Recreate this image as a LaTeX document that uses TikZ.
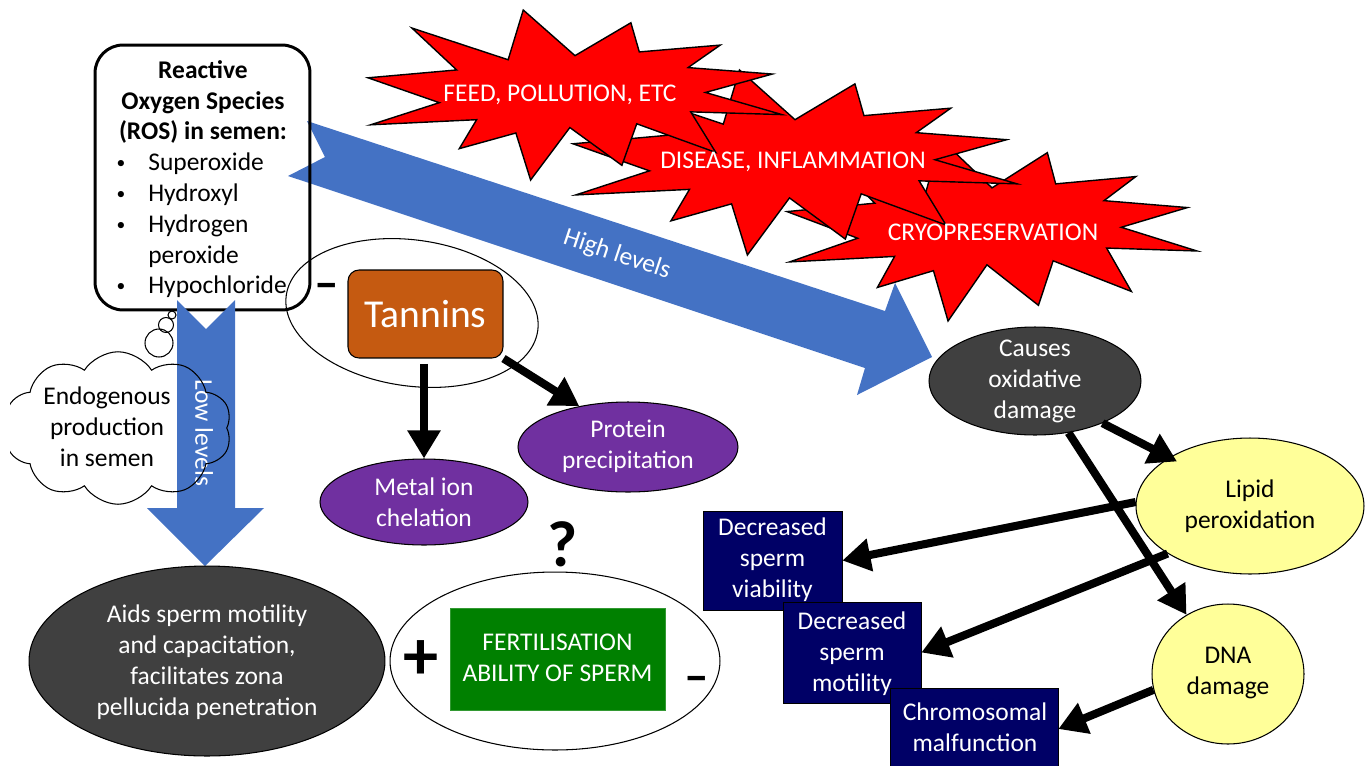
\documentclass[tikz,border=0pt]{standalone}
\usepackage{fontspec}
\setmainfont{Carlito}
\usetikzlibrary{shapes.geometric,shapes.symbols,arrows.meta}
\definecolor{pblue}{RGB}{68,114,196}
\definecolor{porange}{RGB}{197,90,17}
\definecolor{ppurple}{RGB}{112,48,160}
\definecolor{pdark}{RGB}{64,64,64}
\definecolor{pyellow}{RGB}{255,255,153}
\definecolor{pnavy}{RGB}{0,0,102}
\definecolor{pgreen}{RGB}{0,128,0}
\newcommand{\sealshape}{(50,26.85) -- (63.5,7.5) -- (65.53,24.65) -- (85.09,20.63) -- (77.32,33.87) -- (97.67,37.67) -- (81.51,48.50) -- (100,61.53) -- (77.95,59.92) -- (84.00,83.77) -- (64.91,66.93) -- (61.33,91.38) -- (48.76,69.14) -- (39.28,100) -- (35.72,72.35) -- (22.05,81.56) -- (26.24,64.52) -- (0.63,67.53) -- (17.23,54.51) -- (0,39.88) -- (21.42,35.26) -- (10.6,10.6) -- (33.85,29.26) -- (37.5,0) -- cycle}
\begin{document}
\begin{tikzpicture}[x=0.02cm,y=-0.02cm,
  txt/.style={font=\fontsize{14.5}{17.6}\selectfont, align=center, inner sep=0pt},
  wtxt/.style={txt, text=white},
  bullettxt/.style={inner sep=0pt, font=\fontsize{10}{12}\selectfont},
  starshape/.style={fill=red, draw=black, line width=0.8pt, line join=miter},
  blockarrow/.style={fill=pblue, draw=none},
  bigarrow/.style={line width=4.6pt, -{Triangle[length=16pt,width=18pt]}},
  ellnode/.style={ellipse, draw=black, line width=0.6pt, inner sep=0pt},
  navybox/.style={fill=pnavy, draw=black, line width=0.4pt, inner sep=0pt},
  signtxt/.style={inner sep=0pt, font=\bfseries\fontsize{28}{30}\selectfont}]
\useasboundingbox (0,0) rectangle (1367,765);

% --- explosions (bottom to top)
\begin{scope}[shift={(787,139)}, xscale=4.10, yscale=1.82]
  \filldraw[starshape] \sealshape;
\end{scope}
\begin{scope}[shift={(573,70)}, xscale=4.44, yscale=1.85]
  \filldraw[starshape] \sealshape;
\end{scope}
\begin{scope}[shift={(368,10)}, xscale=4.14, yscale=1.70]
  \filldraw[starshape] \sealshape;
\end{scope}
\node[wtxt] (feed) at (560,95) {FEED, POLLUTION, ETC};
\node[wtxt] (disease) at (793,162) {DISEASE, INFLAMMATION};
\node[wtxt] (cryo) at (993,232) {CRYOPRESERVATION};

% --- high levels arrow
\fill[blockarrow] (307,121) -- (885,311) -- (895,283) -- (932,357) -- (857,395) -- (865,368) -- (288,176) -- (325,157) -- cycle;
\node[wtxt, rotate=-18.4] (high) at (617,255) {High levels};

% --- ROS box
\node[draw=black, line width=1.7pt, rounded corners=0.56cm, minimum width=4.3cm, minimum height=5.3cm, inner sep=0pt] (ros) at (202.5,177.5) {};
\node[txt, font=\bfseries\fontsize{14.5}{17.6}\selectfont] (rostitle) at (203,102) {Reactive\\Oxygen Species\\(ROS) in semen:};
\node[bullettxt] (b1) at (121,164) {•};
\node[bullettxt] (b2) at (121,195) {•};
\node[bullettxt] (b3) at (121,226) {•};
\node[bullettxt] (b4) at (121,287) {•};
\node[txt, anchor=mid west] (i1) at (148,166) {Superoxide};
\node[txt, anchor=mid west] (i2) at (148,197) {Hydroxyl};
\node[txt, anchor=mid west] (i3) at (148,228) {Hydrogen};
\node[txt, anchor=mid west] (i4) at (148,259) {peroxide};
\node[txt, anchor=mid west] (i5) at (148,289) {Hypochloride};

% --- low levels arrow
\fill[blockarrow] (177,300) -- (206,329) -- (235,300) -- (235,508) -- (264,508) -- (205,566) -- (147,508) -- (177,508) -- cycle;
\node[wtxt, rotate=-90] (low) at (204,433) {Low levels};

% --- thought cloud
\begin{scope}
  \clip (10,300) rectangle (400,560);
  \node[cloud, draw=black, line width=0.6pt, cloud puffs=10, cloud puff arc=115, aspect=1.5, minimum width=4.55cm, minimum height=3.05cm, inner sep=0pt] (cloud) at (118,428) {};
\end{scope}
\node[circle, draw=black, line width=0.6pt, minimum size=0.16cm, inner sep=0pt] (bub1) at (172,315) {};
\node[circle, draw=black, line width=0.6pt, minimum size=0.3cm, inner sep=0pt] (bub2) at (166,325) {};
\node[circle, draw=black, line width=0.6pt, minimum size=0.56cm, inner sep=0pt] (bub3) at (159,343) {};
\node[txt] (endo) at (107,427) {Endogenous\\production\\in semen};

% --- tannins
\node[ellnode, minimum width=5.08cm, minimum height=2.92cm, rotate=-8] (tanell) at (412,313) {};
\node[signtxt] (minus1) at (327,291) {–};
\node[draw=black, line width=0.6pt, fill=porange, rounded corners=0.22cm, minimum width=3.1cm, minimum height=1.76cm, inner sep=0pt, text=white, font=\fontsize{22.5}{26}\selectfont] (tannins) at (425.5,314) {Tannins};

\node[ellnode, fill=ppurple, minimum width=4.16cm, minimum height=1.72cm] (metal) at (424,502) {};
\node[wtxt] (metaltxt) at (424,502) {Metal ion\\chelation};
\node[ellnode, fill=ppurple, minimum width=4.4cm, minimum height=1.8cm] (protein) at (628,447) {};
\node[wtxt] (proteintxt) at (628,446) {Protein\\precipitation};
\draw[bigarrow, shorten <=3pt] (tannins.south -| metal.north) -- (metal.north);
\draw[bigarrow] (tannins.south east) -- (protein.140);

\node[inner sep=0pt, font=\bfseries\fontsize{37}{40}\selectfont] (quest) at (563,544) {?};

% --- bottom left
\node[ellnode, fill=pdark, minimum width=7.12cm, minimum height=3.8cm] (aids) at (207,661) {};
\node[wtxt] (aidstxt) at (207,662) {Aids sperm motility\\and capacitation,\\facilitates zona\\pellucida penetration};
\node[ellnode, fill=white, minimum width=6.6cm, minimum height=3.56cm] (fert) at (555,661) {};
\node[fill=pgreen, draw=pgreen!80!white, line width=0.5pt, minimum width=4.3cm, minimum height=2.04cm, inner sep=0pt] (fertbox) at (557.5,659) {};
\node[wtxt] (ferttxt) at (557.5,658) {FERTILISATION\\ABILITY OF SPERM};
\node[signtxt, font=\bfseries\fontsize{40}{42}\selectfont] (plus) at (421,660) {+};
\node[signtxt] (minus2) at (697,684) {–};

% --- right side
\node[ellnode, fill=pdark, minimum width=4.24cm, minimum height=2.16cm] (causes) at (1035,381) {};
\node[wtxt] (causestxt) at (1035,381) {Causes\\oxidative\\damage};
\node[ellnode, fill=pyellow, minimum width=4.56cm, minimum height=2.72cm] (lipid) at (1250,506) {};
\node[txt] (lipidtxt) at (1250,506) {Lipid\\peroxidation};
\node[ellnode, fill=pyellow, minimum width=3.04cm, minimum height=2.8cm] (dna) at (1228,674) {};
\node[txt] (dnatxt) at (1228,673) {DNA\\damage};

\node[navybox, minimum width=2.78cm, minimum height=1.98cm] (viab) at (772.5,560.5) {};
\node[wtxt] (viabtxt) at (772.5,560) {Decreased\\sperm\\viability};
\node[navybox, minimum width=2.76cm, minimum height=2.02cm] (motil) at (852,652.5) {};
\node[wtxt] (motiltxt) at (852,654) {Decreased\\sperm\\motility};
\node[navybox, minimum width=3.36cm, minimum height=1.64cm] (chrom) at (974,729) {};
\node[wtxt] (chromtxt) at (975,727) {Chromosomal\\malfunction};

\draw[bigarrow, shorten >=-5pt] (causes.-32) -- (lipid.149);
\draw[bigarrow] (causes.-57) -- (dna.125);
\draw[bigarrow] (lipid.178) -- (viab.east);
\draw[bigarrow] (lipid.210) -- (motil.east);
\draw[bigarrow] (dna.192) -- (chrom.east);
\end{tikzpicture}
\end{document}
